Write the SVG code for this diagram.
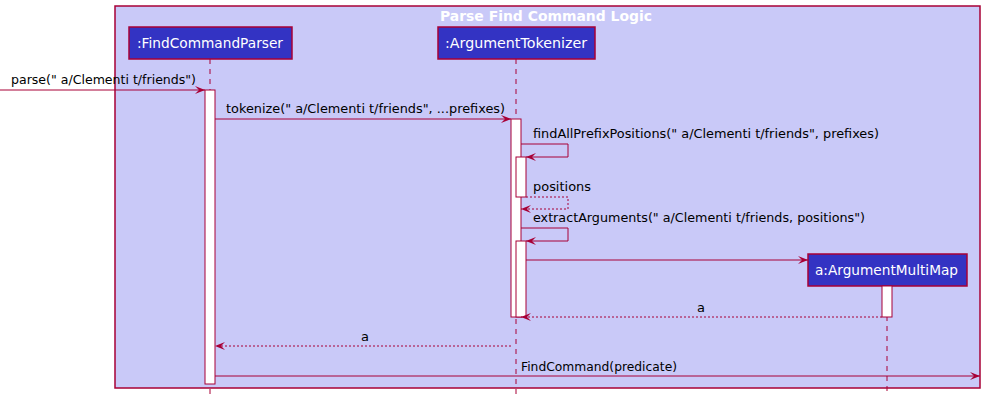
<svg xmlns="http://www.w3.org/2000/svg" width="985" height="400" viewBox="0 0 985 400">
<defs>
<style>
text{font-family:"DejaVu Sans","Liberation Sans",Arial,sans-serif;}
.lbl{font-size:13px;fill:#000;}
.ttl{font-size:14px;fill:#fff;}
.frame-title{font-size:14px;font-weight:bold;fill:#fff;}
.box{fill:#3333C3;stroke:#A80036;stroke-width:1.5;}
.act{fill:#fff;stroke:#A80036;stroke-width:1;}
.life{stroke:#A80036;stroke-width:1;stroke-dasharray:5,5;fill:none;}
.msg{stroke:#A80036;stroke-width:1;fill:none;}
.ret{stroke:#A80036;stroke-width:1;fill:none;stroke-dasharray:2,2;}
</style>
<marker id="ah" viewBox="0 0 10 8" refX="10" refY="4" markerWidth="10" markerHeight="8" markerUnits="userSpaceOnUse" orient="auto">
<polygon points="0,0 10,4 0,8 4,4" fill="#A80036"/>
</marker>
</defs>
<rect width="985" height="400" fill="#fff"/>
<g id="frame">
<rect x="115" y="6" width="865" height="382" fill="#C9C9F8" stroke="#A80036" stroke-width="1.5"/>
<text class="frame-title" x="440" y="21" textLength="212" lengthAdjust="spacingAndGlyphs">Parse Find Command Logic</text>
</g>
<g id="lifelines">
<line class="life" x1="210" y1="59" x2="210" y2="396"/>
<line class="life" x1="516" y1="59" x2="516" y2="396"/>
<line class="life" x1="887" y1="286" x2="887" y2="392"/>
</g>
<g id="FindCommandParser">
<rect class="box" x="129" y="27" width="163" height="32"/>
<text class="ttl" x="137" y="48" textLength="146" lengthAdjust="spacingAndGlyphs">:FindCommandParser</text>
<rect class="act" x="205" y="90" width="10" height="294"/>
</g>
<g id="ArgumentTokenizer">
<rect class="box" x="438" y="27" width="157" height="32"/>
<text class="ttl" x="445" y="48" textLength="142" lengthAdjust="spacingAndGlyphs">:ArgumentTokenizer</text>
<rect class="act" x="511" y="119" width="10" height="198"/>
<rect class="act" x="516" y="157" width="10" height="40"/>
<rect class="act" x="516" y="241" width="10" height="76"/>
</g>
<g id="ArgumentMultiMap">
<rect class="box" x="808" y="254" width="159" height="32"/>
<text class="ttl" x="815" y="275" textLength="143" lengthAdjust="spacingAndGlyphs">a:ArgumentMultiMap</text>
<rect class="act" x="882" y="286" width="10" height="31"/>
</g>
<g id="connectors">
<line class="msg" x1="0" y1="90" x2="205" y2="90" marker-end="url(#ah)"/>
<text class="lbl" x="11" y="84" textLength="185" lengthAdjust="spacingAndGlyphs">parse(" a/Clementi t/friends")</text>
<line class="msg" x1="215" y1="119" x2="511" y2="119" marker-end="url(#ah)"/>
<text class="lbl" x="226" y="113" textLength="279" lengthAdjust="spacingAndGlyphs">tokenize(" a/Clementi t/friends", ...prefixes)</text>
<polyline class="msg" points="521,144 568,144 568,157 526,157" marker-end="url(#ah)"/>
<text class="lbl" x="533" y="138" textLength="346" lengthAdjust="spacingAndGlyphs">findAllPrefixPositions(" a/Clementi t/friends", prefixes)</text>
<polyline class="ret" points="526,197 568,197 568,209 521,209" marker-end="url(#ah)"/>
<text class="lbl" x="533" y="191" textLength="58" lengthAdjust="spacingAndGlyphs">positions</text>
<polyline class="msg" points="521,228 568,228 568,241 526,241" marker-end="url(#ah)"/>
<text class="lbl" x="533" y="222" textLength="332" lengthAdjust="spacingAndGlyphs">extractArguments(" a/Clementi t/friends, positions")</text>
<line class="msg" x1="526" y1="260" x2="808" y2="260" marker-end="url(#ah)"/>
<line class="ret" x1="882" y1="317" x2="521" y2="317" marker-end="url(#ah)"/>
<text class="lbl" x="701" y="312" text-anchor="middle">a</text>
<line class="ret" x1="511" y1="346" x2="215" y2="346" marker-end="url(#ah)"/>
<text class="lbl" x="365" y="341" text-anchor="middle">a</text>
<line class="msg" x1="215" y1="376" x2="980" y2="376" marker-end="url(#ah)"/>
<text class="lbl" x="521" y="371" textLength="156" lengthAdjust="spacingAndGlyphs">FindCommand(predicate)</text>
</g>
</svg>
